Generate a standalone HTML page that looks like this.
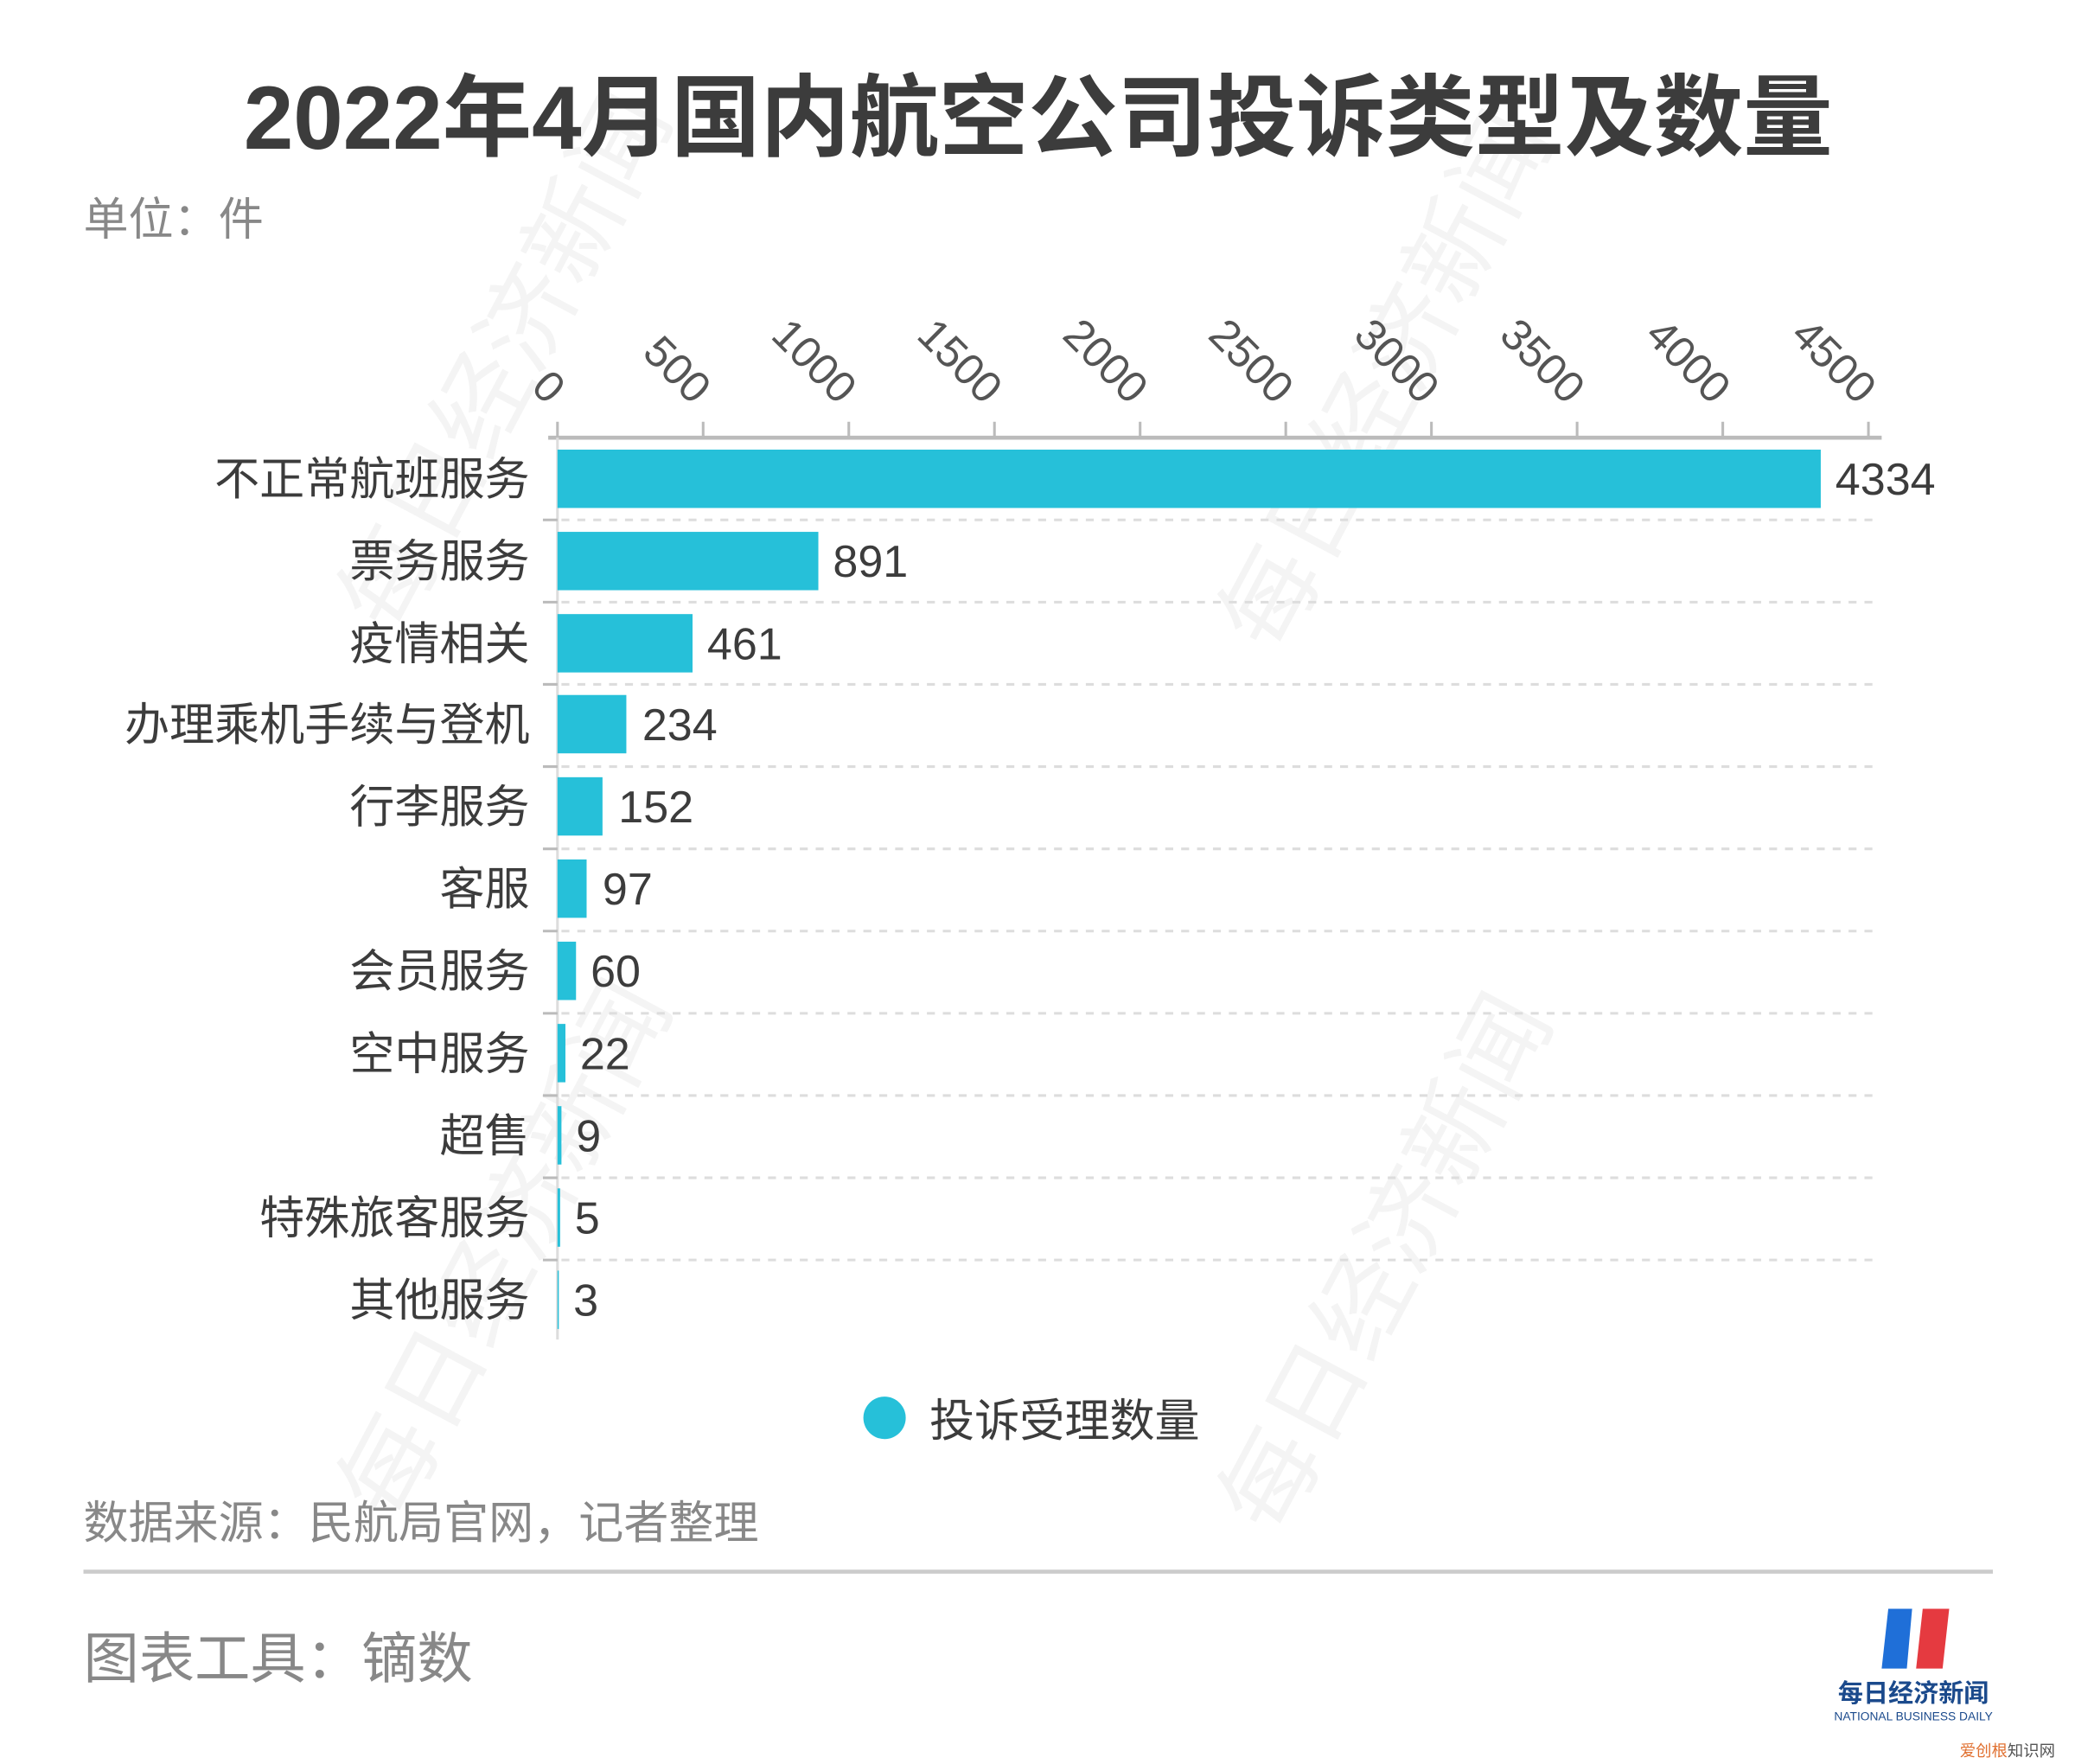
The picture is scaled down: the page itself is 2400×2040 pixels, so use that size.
<!DOCTYPE html>
<html><head><meta charset="utf-8"><style>
html,body{margin:0;padding:0;background:#fff}
svg{display:block}
text{font-family:"Liberation Sans","Noto Sans CJK SC",sans-serif}
</style></head><body>
<svg width="2400" height="2040" viewBox="0 0 1567 1330" preserveAspectRatio="none" xmlns="http://www.w3.org/2000/svg">
<rect width="1567" height="1330" fill="#fff"/>
<g fill="#f4f4f4" font-size="74">
<text transform="translate(300,1150) rotate(-62)">每日经济新闻</text>
<text transform="translate(965,1160) rotate(-62)">每日经济新闻</text>
<text transform="translate(300,480) rotate(-62)">每日经济新闻</text>
<text transform="translate(965,495) rotate(-62)">每日经济新闻</text>
</g>
<text x="784" y="112" text-anchor="middle" font-size="67.5" font-weight="bold" fill="#3c3c3c">2022年4月国内航空公司投诉类型及数量</text>
<text x="63" y="177" font-size="34" fill="#888">单位：件</text>
<g font-size="33" fill="#555">
<text transform="translate(413,306) rotate(45)" text-anchor="end">0</text>
<text transform="translate(523,306) rotate(45)" text-anchor="end">500</text>
<text transform="translate(633,306) rotate(45)" text-anchor="end">1000</text>
<text transform="translate(743,306) rotate(45)" text-anchor="end">1500</text>
<text transform="translate(853,306) rotate(45)" text-anchor="end">2000</text>
<text transform="translate(963,306) rotate(45)" text-anchor="end">2500</text>
<text transform="translate(1073,306) rotate(45)" text-anchor="end">3000</text>
<text transform="translate(1183,306) rotate(45)" text-anchor="end">3500</text>
<text transform="translate(1293,306) rotate(45)" text-anchor="end">4000</text>
<text transform="translate(1403,306) rotate(45)" text-anchor="end">4500</text>
</g>
<g stroke="#bbb" stroke-width="2">
<line x1="414" y1="330" x2="1421" y2="330" stroke-width="3"/>
<line x1="421" y1="318" x2="421" y2="330"/><line x1="531" y1="318" x2="531" y2="330"/><line x1="641" y1="318" x2="641" y2="330"/><line x1="751" y1="318" x2="751" y2="330"/><line x1="861" y1="318" x2="861" y2="330"/><line x1="971" y1="318" x2="971" y2="330"/><line x1="1081" y1="318" x2="1081" y2="330"/><line x1="1191" y1="318" x2="1191" y2="330"/><line x1="1301" y1="318" x2="1301" y2="330"/><line x1="1411" y1="318" x2="1411" y2="330"/>
<line x1="421" y1="330" x2="421" y2="1010" stroke="#ddd"/>
</g>
<g stroke="#ddd" stroke-width="2" stroke-dasharray="6,6">
<line x1="424" y1="392" x2="1415" y2="392"/><line x1="424" y1="454" x2="1415" y2="454"/><line x1="424" y1="516" x2="1415" y2="516"/><line x1="424" y1="578" x2="1415" y2="578"/><line x1="424" y1="640" x2="1415" y2="640"/><line x1="424" y1="702" x2="1415" y2="702"/><line x1="424" y1="764" x2="1415" y2="764"/><line x1="424" y1="826" x2="1415" y2="826"/><line x1="424" y1="888" x2="1415" y2="888"/><line x1="424" y1="950" x2="1415" y2="950"/>
</g>
<g stroke="#bbb" stroke-width="2">
<line x1="410" y1="392" x2="421" y2="392"/><line x1="410" y1="454" x2="421" y2="454"/><line x1="410" y1="516" x2="421" y2="516"/><line x1="410" y1="578" x2="421" y2="578"/><line x1="410" y1="640" x2="421" y2="640"/><line x1="410" y1="702" x2="421" y2="702"/><line x1="410" y1="764" x2="421" y2="764"/><line x1="410" y1="826" x2="421" y2="826"/><line x1="410" y1="888" x2="421" y2="888"/><line x1="410" y1="950" x2="421" y2="950"/>
</g>
<g fill="#26c0d9">
<rect x="421" y="339" width="954" height="44"/>
<rect x="421" y="401" width="197" height="44"/>
<rect x="421" y="463" width="102" height="44"/>
<rect x="421" y="524" width="52" height="44"/>
<rect x="421" y="586" width="34" height="44"/>
<rect x="421" y="648" width="22" height="44"/>
<rect x="421" y="710" width="14" height="44"/>
<rect x="421" y="772" width="6" height="44"/>
<rect x="421" y="834" width="3" height="44"/>
<rect x="421" y="896" width="2" height="44"/>
<rect x="421" y="958" width="1" height="44"/>
</g>
<g font-size="34" fill="#3c3c3c" text-anchor="end">
<text x="400" y="373">不正常航班服务</text>
<text x="400" y="435">票务服务</text>
<text x="400" y="497">疫情相关</text>
<text x="400" y="558">办理乘机手续与登机</text>
<text x="400" y="620">行李服务</text>
<text x="400" y="682">客服</text>
<text x="400" y="744">会员服务</text>
<text x="400" y="806">空中服务</text>
<text x="400" y="868">超售</text>
<text x="400" y="930">特殊旅客服务</text>
<text x="400" y="992">其他服务</text>
</g>
<g font-size="34" fill="#3c3c3c">
<text x="1386" y="373">4334</text>
<text x="629" y="435">891</text>
<text x="534" y="497">461</text>
<text x="485" y="558">234</text>
<text x="467" y="620">152</text>
<text x="455" y="682">97</text>
<text x="446" y="744">60</text>
<text x="438" y="806">22</text>
<text x="435" y="868">9</text>
<text x="434" y="930">5</text>
<text x="433" y="992">3</text>
</g>
<circle cx="668" cy="1069" r="16" fill="#26c0d9"/>
<text x="702" y="1083" font-size="34" fill="#3c3c3c">投诉受理数量</text>
<text x="63" y="1160" font-size="34" fill="#888">数据来源：民航局官网，记者整理</text>
<line x1="63" y1="1185" x2="1505" y2="1185" stroke="#ccc" stroke-width="3"/>
<text x="63" y="1265" font-size="42" fill="#888">图表工具：镝数</text>
<path d="M1426 1213 L1444 1213 L1440 1258 L1421 1258 Z" fill="#1f6fd8"/>
<path d="M1452 1213 L1472 1213 L1467 1258 L1447 1258 Z" fill="#e53a40"/>
<text x="1445" y="1283" text-anchor="middle" font-size="19" font-weight="bold" fill="#1b4a8c">每日经济新闻</text>
<text x="1445" y="1297" text-anchor="middle" font-size="9" fill="#1b4a8c">NATIONAL BUSINESS DAILY</text>
<text x="1480" y="1324" font-size="12" fill="#e07030">爱创根</text><text x="1516" y="1324" font-size="12" fill="#555">知识网</text>
</svg>
</body></html>
